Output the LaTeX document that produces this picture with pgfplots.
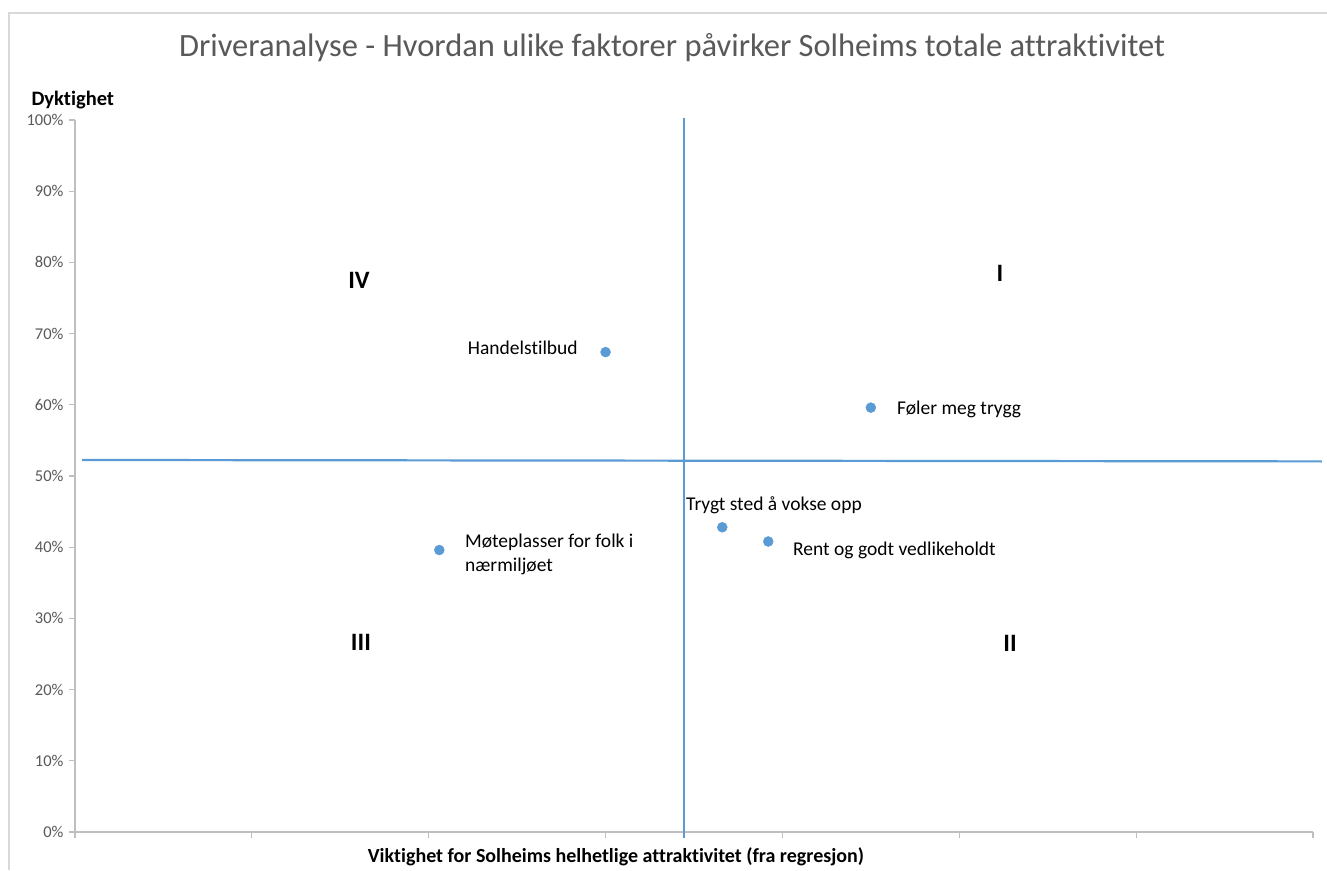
\documentclass[border=0pt]{standalone}
\usepackage{pgfplots}
\pgfplotsset{compat=1.18}
\usepackage{fontspec}
\setmainfont{Carlito}[Ligatures=NoCommon]
\definecolor{xblue}{HTML}{5B9BD5}
\definecolor{xgray}{HTML}{595959}
\definecolor{axgray}{HTML}{BFBFBF}
\definecolor{frgray}{HTML}{D9D9D9}
\begin{document}
\begin{tikzpicture}
\path[use as bounding box] (0pt,0pt) rectangle (1327pt,870pt);
\fill[white] (0pt,0pt) rectangle (1327pt,870pt);
\draw[frgray, line width=1.5pt] (9pt,0pt) -- (9pt,857pt) -- (1327pt,857pt);
\node[text=xgray, font=\fontsize{32.5}{36}\selectfont] at (672pt,822pt) {Driveranalyse - Hvordan ulike faktorer påvirker Solheims totale attraktivitet};
\node[anchor=west, font=\fontsize{20.5}{24}\bfseries\selectfont] at (28pt,770pt) {Dyktighet};
\node[font=\fontsize{20}{24}\bfseries\selectfont] at (616pt,13pt) {Viktighet for Solheims helhetlige attraktivitet (fra regresjon)};
\begin{axis}[
  at={(75pt,38pt)}, anchor=origin,
  scale only axis, width=1238pt, height=712pt,
  xmin=0, xmax=7, ymin=0, ymax=100,
  axis x line=bottom, axis y line=left,
  axis line style={axgray, line width=1.2pt, -},
  xtick={0,1,...,7}, xticklabels={},
  ytick={0,10,...,100},
  yticklabel={\pgfmathprintnumber{\tick}\%},
  /pgf/number format/assume math mode=true,
  yticklabel style={text=xgray, font=\fontsize{16.5}{18}\selectfont, xshift=-2pt},
  tick style={axgray, line width=1.2pt},
  major tick length=6pt,
  tick align=outside,
  clip=false,
]
% quadrant lines
\addplot[xblue, line width=2.2pt, no marks] coordinates {(0.040,52.25) (7.051,52.05)};
\addplot[xblue, line width=2.2pt, no marks] coordinates {(3.443,100.3) (3.443,-0.8)};
% points
\addplot[only marks, mark=*, mark size=5pt, mark options={fill=xblue, draw=xblue}] coordinates {
  (3.00,67.4) (4.50,59.6) (3.66,42.8) (3.92,40.8) (2.06,39.6)
};
\begin{scope}[font=\fontsize{19.5}{24}\selectfont]
\node[anchor=east, inner sep=0pt] at (axis cs:2.844,68.0) {Handelstilbud};
\node[anchor=west, inner sep=0pt] at (axis cs:4.648,59.3) {Føler meg trygg};
\node[anchor=west, inner sep=0pt] at (axis cs:3.455,45.9) {Trygt sted å vokse opp};
\node[anchor=west, inner sep=0pt] at (axis cs:4.060,39.6) {Rent og godt vedlikeholdt};
\node[anchor=west, inner sep=0pt, align=left] at (axis cs:2.205,39.0) {Møteplasser for folk i\\nærmiljøet};
\end{scope}
\begin{scope}[font=\fontsize{25}{28}\bfseries\selectfont]
\node at (axis cs:1.606,77.5) {IV};
\node at (axis cs:5.230,78.5) {I};
\node at (axis cs:1.617,26.7) {III};
\node at (axis cs:5.287,26.5) {II};
\end{scope}
\end{axis}
\end{tikzpicture}
\end{document}
